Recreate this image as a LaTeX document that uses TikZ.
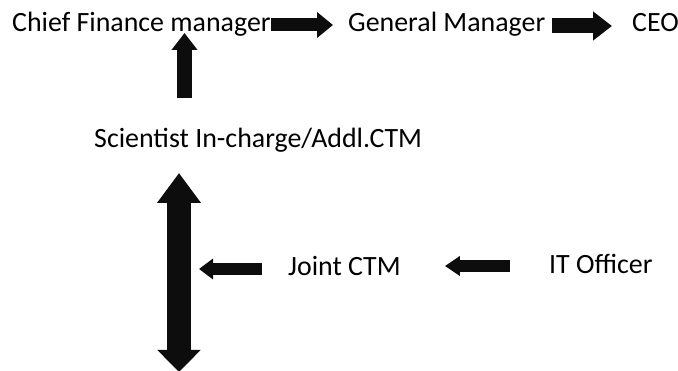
\documentclass[tikz,border=0pt]{standalone}
\usepackage{fontspec}
\setmainfont{Carlito}
\usetikzlibrary{arrows.meta,calc}

\tikzset{
  label/.style={inner sep=0pt, anchor=base west, font=\fontsize{27.9}{33}\selectfont},
  % thick block arrow: shaft width, head width, head length
  blockarrow/.style n args={3}{draw=black!95, line width=#1,
    -{Triangle[width=#2, length=#3, fill=black!95]}},
}

\begin{document}
\begin{tikzpicture}[x=1pt, y=-1pt]
  \useasboundingbox (0,0) rectangle (678,371);

  % titles
  \node[label] (cfm)  at (12,31.5)  {Chief Finance manager};
  \node[label] (gm)   at (348,31.5) {General Manager};
  \node[label] (ceo)  at (632,31.5) {CEO};
  \node[label] (sci)  at (94,148)   {Scientist In-charge/Addl.CTM};
  \node[label] (jctm) at (288,275.5){Joint CTM};
  \node[label] (itof) at (549,274)  {IT Officer};

  % ends of the vertical spine
  \coordinate (spineTop) at (179,173);
  \coordinate (spineBot) at (179,372);

  % top row
  \draw[blockarrow={13pt}{25pt}{16pt}, shorten >=15pt]
    ([yshift=6.5pt]cfm.base east) -- ([yshift=6.5pt]gm.base west);
  \draw[blockarrow={15pt}{28pt}{19pt}, shorten <=7pt, shorten >=20pt]
    ([yshift=5.5pt]gm.base east) -- ([yshift=5.5pt]ceo.base west);

  % scientist up to finance
  \draw[blockarrow={15pt}{25pt}{17pt}]
    ([xshift=90.5pt, yshift=50pt]sci.base west) -- ([xshift=172.5pt, yshift=-1.5pt]cfm.base west);

  % double-headed spine
  \draw[draw=black!95, line width=24pt,
        {Triangle[width=42pt, length=30pt, fill=black!95]}-{Triangle[width=42pt, length=22pt, fill=black!95]}]
    (spineTop) -- (spineBot);

  % bottom row
  \draw[blockarrow={12pt}{20pt}{14pt}, shorten <=26pt, shorten >=20pt]
    ([yshift=6.5pt]jctm.base west) -- ([yshift=6.5pt]jctm.base west -| spineTop);
  \draw[blockarrow={12pt}{19pt}{15pt}, shorten <=39pt, shorten >=44pt]
    ([yshift=8pt]itof.base west) -- ([yshift=8pt]itof.base west -| jctm.east);
\end{tikzpicture}
\end{document}
